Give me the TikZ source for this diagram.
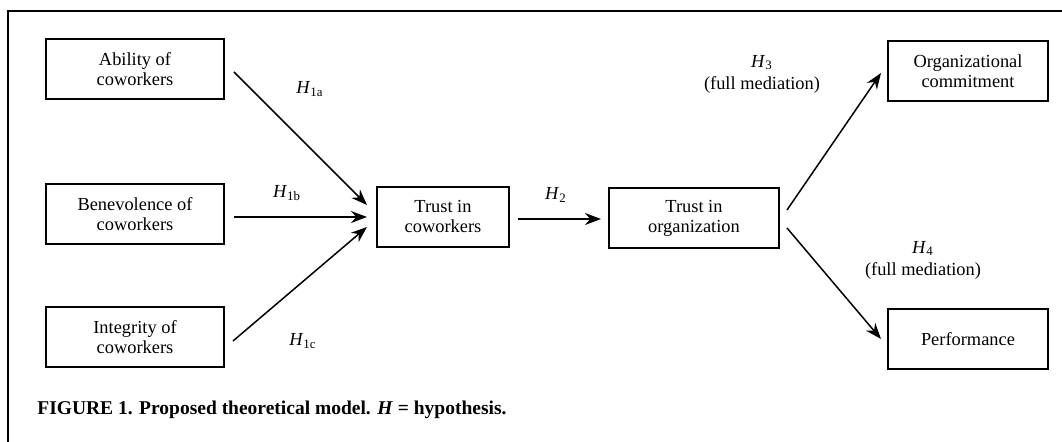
\documentclass[tikz,border=0pt]{standalone}
\usepackage{fontspec}
\setmainfont{Liberation Serif}
\usetikzlibrary{arrows.meta}
\begin{document}
\begin{tikzpicture}[x=0.5pt,y=-0.5pt,
  box/.style={draw,line width=1pt,minimum height=30pt,align=center,inner sep=0pt,font=\fontsize{9.2}{10}\selectfont},
  arr/.style={-{Stealth[length=8pt,width=6pt]},line width=0.75pt},
  hyp/.style={align=center,inner sep=0pt,font=\fontsize{9.2}{11}\selectfont}]
\useasboundingbox (0,0) rectangle (1062,442);
\draw[line width=1pt] (8,442) -- (8,11) -- (1062,11);
% constructs
\node[box,minimum width=89pt] (ability) at (135,69) {Ability of\\coworkers};
\node[box,minimum width=89pt] (benev) at (135,214) {Benevolence of\\coworkers};
\node[box,minimum width=89pt] (integ) at (135,337) {Integrity of\\coworkers};
\node[box,minimum width=66pt] (trustcw) at (443,217) {Trust in\\coworkers};
\node[box,minimum width=85pt] (trustorg) at (694,218) {Trust in\\organization};
\node[box,minimum width=80pt] (commit) at (968,71) {Organizational\\commitment};
\node[box,minimum width=80pt] (perf) at (968,339) {Performance};
% paths
\draw[arr] ([shift={(9,3)}]ability.east) -- ([shift={(-9,-12)}]trustcw.west);
\draw[arr] ([shift={(9,3)}]benev.east) -- ([shift={(-9,0)}]trustcw.west);
\draw[arr] ([shift={(8,4)}]integ.east) -- ([shift={(-9,10)}]trustcw.west);
\draw[arr] ([shift={(8,2)}]trustcw.east) -- ([shift={(-7,1)}]trustorg.west);
\draw[arr] ([shift={(7,-8)}]trustorg.east) -- ([shift={(-6,2)}]commit.west);
\draw[arr] ([shift={(7,10)}]trustorg.east) -- ([shift={(-6,0)}]perf.west);
% hypotheses
\node[hyp] (h1a) at (310,89) {\textit{H}\textsubscript{1a}};
\node[hyp] (h1b) at (287,193) {\textit{H}\textsubscript{1b}};
\node[hyp] (h1c) at (303,341) {\textit{H}\textsubscript{1c}};
\node[hyp] (h2) at (556,195) {\textit{H}\textsubscript{2}};
\node[hyp] (h3) at (762,74) {\textit{H}\textsubscript{3}\\(full mediation)};
\node[hyp] (h4) at (923,260) {\textit{H}\textsubscript{4}\\(full mediation)};
\node[anchor=west,inner sep=0pt,font=\bfseries\fontsize{9.75}{10}\selectfont] (caption) at (37,410)
  {FIGURE 1. Proposed theoretical model. \textit{H} = hypothesis.};
\end{tikzpicture}
\end{document}
